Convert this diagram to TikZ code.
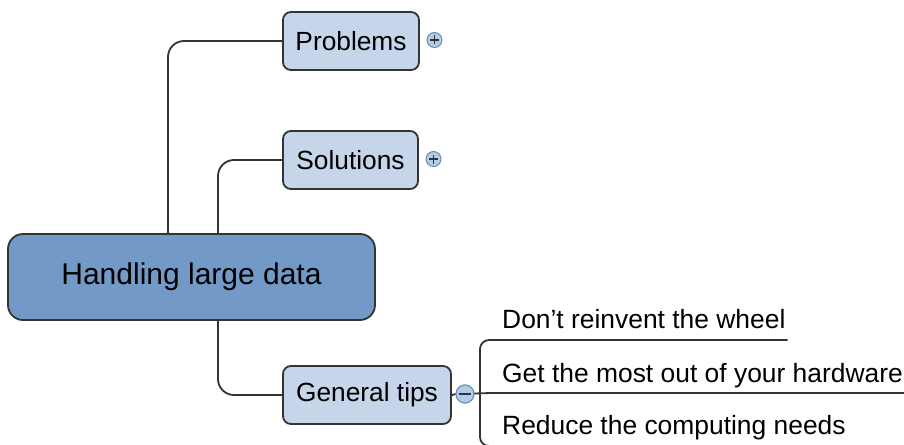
\documentclass[tikz,border=0pt]{standalone}
\usepackage{fontspec}
\setmainfont{Liberation Sans}
\definecolor{rootfill}{HTML}{7399C6}
\definecolor{topicfill}{HTML}{C6D5EA}
\definecolor{knobfill}{HTML}{AFCDEA}
\definecolor{knobline}{HTML}{6F8CAA}
\definecolor{edge}{HTML}{333333}
\tikzset{
  root/.style={draw=edge, line width=1.8pt, fill=rootfill, rounded corners=15pt,
    minimum width=367pt, minimum height=86pt, inner sep=0pt,
    font=\fontsize{30pt}{34pt}\selectfont},
  topic/.style={draw=edge, line width=1.8pt, fill=topicfill, rounded corners=8pt,
    minimum height=58pt, inner sep=0pt,
    font=\fontsize{26.3pt}{30pt}\selectfont},
  leaf/.style={inner sep=0pt, anchor=base west, font=\fontsize{26.4pt}{30pt}\selectfont},
  conn/.style={draw=edge, line width=1.8pt, rounded corners=16pt},
  knob/.style={circle, draw=knobline, line width=1pt, fill=knobfill,
    minimum size=#1, inner sep=0pt},
}
\begin{document}
\begin{tikzpicture}[x=1pt, y=-1pt]
\useasboundingbox (0,0) rectangle (904,444);
\fill[white] (0,0) rectangle (904,444);

% central topic and its three branches
\node[root] (main) at (191.5,277) {Handling large data};
\node[topic, minimum width=136pt] (prob) at (351,41) {Problems};
\node[topic, minimum width=135pt] (sol) at (350.5,160) {Solutions};
\node[topic, minimum width=168pt] (gen) at (367,395) {General tips};

\coordinate (mA) at ([xshift=-23.5pt]main.north);
\coordinate (mB) at ([xshift=26.5pt]main.north);
\coordinate (mC) at ([xshift=26.5pt]main.south);

\draw[conn] (mA) |- (prob.west);
\draw[conn] (mB) |- (sol.west);
\draw[conn] (mC) |- (gen.west);

% expand / collapse knobs
\node[knob=15pt] (probk) at (434.5,40) {};
\draw[edge, line width=1.1pt] ([xshift=-4.5pt]probk.center) -- ([xshift=4.5pt]probk.center)
  ([yshift=-4.5pt]probk.center) -- ([yshift=4.5pt]probk.center);
\node[knob=15pt] (solk) at (433.5,159) {};
\draw[edge, line width=1.1pt] ([xshift=-4.5pt]solk.center) -- ([xshift=4.5pt]solk.center)
  ([yshift=-4.5pt]solk.center) -- ([yshift=4.5pt]solk.center);
\node[knob=18pt] (genk) at (465,394) {};

% tips under "General tips"
\node[leaf] (t1) at (502,328) {Don’t reinvent the wheel};
\node[leaf] (t2) at (502,382) {Get the most out of your hardware};
\node[leaf] (t3) at (502,434) {Reduce the computing needs};

\coordinate (j) at (480,393);
\draw[conn] (gen.east) -- (genk.west);
\draw[conn] (genk.center) -- (j) -- ([xshift=1pt,yshift=-11pt]t2.base east);
\draw[conn, rounded corners=9pt] ([xshift=2pt,yshift=-12pt]t1.base east) -| (j)
  |- ([xshift=2pt,yshift=-12pt]t3.base east);
\node[knob=18pt] at (genk) {};
\draw[edge, line width=1.3pt] ([xshift=-6pt]genk.center) -- ([xshift=6pt]genk.center);
\end{tikzpicture}
\end{document}
